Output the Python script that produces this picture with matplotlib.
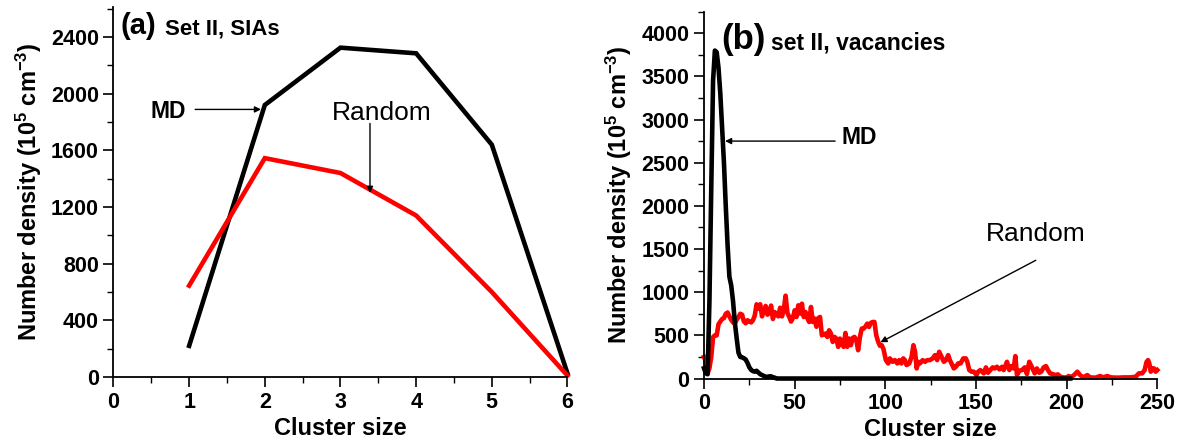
import matplotlib
matplotlib.use("Agg")
import matplotlib.pyplot as plt
from matplotlib.ticker import MultipleLocator

plt.rcParams['font.family'] = ['Liberation Sans', 'DejaVu Sans']
plt.rcParams['font.weight'] = 'bold'
plt.rcParams['mathtext.fontset'] = 'custom'
plt.rcParams['mathtext.bf'] = 'Liberation Sans:bold'
plt.rcParams['mathtext.rm'] = 'Liberation Sans:bold'
plt.rcParams['mathtext.default'] = 'bf'

# ---------------- data: panel (a) SIAs ----------------
size_a = [1, 2, 3, 4, 5, 6]
md_a = [220, 1920, 2325, 2285, 1640, 25]
random_a = [645, 1545, 1440, 1140, 600, 10]

# ---------------- data: panel (b) vacancies ----------------
md_b_x = [0, 1, 2, 3, 4, 5, 6, 7, 8, 9, 10, 11, 12, 13, 14, 15, 16, 17, 18, 19,
          20, 21, 22, 23, 24, 25, 26, 27, 28, 29, 30, 31, 32, 33, 34, 35, 36, 37,
          38, 39, 40, 202]
md_b_y = [120, 60, 50, 900, 2200, 3450, 3800, 3780, 3600, 3300, 2900, 2500, 2000,
          1550, 1180, 1080, 900, 650, 470, 300, 250, 245, 235, 220, 180, 130, 100,
          85, 80, 90, 70, 50, 40, 30, 20, 20, 25, 25, 15, 10, 0, 0]

rand_b_x = [0, 1, 2, 3, 4, 5, 6, 7, 8, 9, 10, 11, 12, 13, 14, 15, 16, 17, 18, 19,
            20, 21, 22, 23, 24, 25, 26, 27, 28, 29, 30, 31, 32, 33, 34, 35, 36, 37,
            38, 39, 40, 41, 42, 43, 44, 45, 46, 47, 48, 49, 50, 51, 52, 53, 54, 55,
            56, 57, 58, 59, 60, 61, 62, 63, 64, 65, 66, 67, 68, 69, 70, 71, 72, 73,
            74, 75, 76, 77, 78, 79, 80, 81, 82, 83, 84, 85, 86, 87, 88, 89, 90, 91,
            92, 93, 94, 95, 96, 97, 98, 99, 100.3, 101.6, 102.5, 104, 105.3, 106.6,
            107.7, 108.9, 109.9, 110.8, 111.7, 113.2, 114.5, 115.5, 116.4, 117.3,
            118.2, 119.1, 120.6, 121.9, 123.1, 124.6, 126.1, 127.4, 128.6, 129.7,
            131, 132.3, 133.4, 134.7, 135.6, 136.5, 137.8, 138.9, 140.2, 141.5, 143,
            144.4, 145.2, 146.3, 147.6, 148.8, 150.3, 151.2, 152.4, 154.3, 155.5,
            156.6, 157.9, 159.2, 160.3, 161.6, 162.9, 164.4, 165.3, 166.2, 167.1,
            168.4, 169.5, 170.8, 171.7, 172.6, 173.9, 175.4, 176.9, 178.1, 179.4,
            180.9, 182.4, 183.6, 184.9, 186, 187.3, 188.6, 189.7, 190.9, 192.3,
            193.7, 195.2, 196.5, 198.3, 200.1, 201.1, 202.3, 204.1, 205.9, 207.4,
            209.2, 211.4, 212.9, 216, 218.4, 220.2, 222.4, 224.3, 227.9, 231.6,
            235.3, 238.1, 239.9, 241.7, 243, 244.1, 244.9, 245.6, 246.4, 247.3,
            248.2, 249.1, 250]
rand_b_y = [250, 200, 60, 120, 250, 480, 500, 500, 630, 660, 690, 700, 750, 765,
            720, 680, 650, 636, 680, 713, 750, 740, 660, 640, 675, 660, 650, 675,
            730, 860, 810, 860, 720, 780, 840, 740, 760, 845, 690, 770, 740, 720,
            820, 720, 800, 960, 760, 715, 660, 700, 790, 713, 848, 752, 867, 713,
            771, 700, 655, 829, 655, 694, 600, 700, 713, 501, 510, 521, 482, 559,
            521, 424, 482, 463, 367, 463, 405, 367, 528, 367, 463, 386, 470, 482,
            444, 328, 482, 578, 578, 600, 636, 598, 644, 655, 655, 501, 430, 380,
            386, 340, 213, 175, 233, 194, 213, 175, 213, 175, 233, 213, 156, 175,
            252, 386, 310, 117, 194, 175, 213, 194, 213, 213, 233, 271, 213, 310,
            252, 194, 213, 271, 213, 175, 117, 136, 175, 175, 233, 233, 194, 98, 79,
            79, 40, 79, 98, 60, 129, 67, 98, 129, 117, 136, 106, 136, 98, 144, 194,
            98, 144, 117, 260, 40, 90, 98, 129, 52, 194, 129, 60, 117, 67, 79, 129,
            144, 98, 60, 52, 40, 48, 21, 13, 10, 29, 13, 40, 79, 40, 13, 40, 13, 10,
            29, 13, 29, 13, 10, 13, 13, 21, 60, 60, 98, 194, 213, 175, 79, 117, 117,
            79, 98]

xlabel = "Cluster size"
ylabel = r"Number density (10$^{5}$ cm$^{-3}$)"

fig = plt.figure(figsize=(11.82, 4.47), dpi=100)
ax1 = fig.add_axes([0.0960, 0.1566, 0.3841, 0.8271])
ax2 = fig.add_axes([0.5956, 0.1532, 0.3835, 0.8206])

LW = 3.3
TICK_FS = 15.5
LAB_FS = 17

def style(ax):
    for s in ['top', 'right']:
        ax.spines[s].set_visible(False)
    for s in ['left', 'bottom']:
        ax.spines[s].set_linewidth(1.3)
    ax.tick_params(which='major', direction='out', length=7, width=1.2,
                   labelsize=TICK_FS)
    ax.tick_params(which='minor', direction='out', length=4, width=1.0)
    for lab in ax.get_xticklabels() + ax.get_yticklabels():
        lab.set_fontweight('bold')

# ---------- panel (a) ----------
ax1.plot(size_a, md_a, color='black', lw=LW, solid_joinstyle='miter', clip_on=False)
ax1.plot(size_a, random_a, color='#ff0000', lw=LW, solid_joinstyle='miter', clip_on=False)
ax1.set_xlim(0, 6)
ax1.set_ylim(0, 2610)
ax1.xaxis.set_major_locator(MultipleLocator(1))
ax1.xaxis.set_minor_locator(MultipleLocator(0.5))
ax1.yaxis.set_major_locator(MultipleLocator(400))
ax1.yaxis.set_minor_locator(MultipleLocator(200))
ax1.set_yticks([0, 400, 800, 1200, 1600, 2000, 2400])
style(ax1)
ax1.set_xlabel(xlabel, fontsize=LAB_FS, fontweight='bold', labelpad=3)
ax1.set_ylabel(ylabel, fontsize=LAB_FS, fontweight='bold', labelpad=5)

ax1.text(0.016, 0.927, "(a)", transform=ax1.transAxes, fontsize=21,
         fontweight='bold', va='baseline', ha='left')
ax1.text(0.113, 0.927, "Set II, SIAs", transform=ax1.transAxes, fontsize=16,
         fontweight='bold', va='baseline', ha='left')

ax1.annotate("", xy=(1.95, 1889), xytext=(1.08, 1889),
             arrowprops=dict(arrowstyle='-|>', color='black', lw=1.0,
                             mutation_scale=9, shrinkA=0, shrinkB=0))
ax1.text(0.72, 1876, "MD", fontsize=16.5, fontweight='bold', ha='center', va='center')
ax1.annotate("", xy=(3.39, 1300), xytext=(3.39, 1790),
             arrowprops=dict(arrowstyle='-|>', color='black', lw=1.0,
                             mutation_scale=9, shrinkA=0, shrinkB=0))
ax1.text(3.54, 1867, "Random", fontsize=19, fontweight='normal', ha='center', va='center')

# ---------- panel (b) ----------
ax2.plot(rand_b_x, rand_b_y, color='#ff0000', lw=LW, clip_on=False)
ax2.plot(md_b_x, md_b_y, color='black', lw=LW, clip_on=False)
ax2.set_xlim(0, 250)
ax2.set_ylim(0, 4250)
ax2.xaxis.set_major_locator(MultipleLocator(50))
ax2.xaxis.set_minor_locator(MultipleLocator(25))
ax2.yaxis.set_major_locator(MultipleLocator(500))
ax2.yaxis.set_minor_locator(MultipleLocator(250))
ax2.set_yticks([0, 500, 1000, 1500, 2000, 2500, 3000, 3500, 4000])
style(ax2)
ax2.set_xlabel(xlabel, fontsize=LAB_FS, fontweight='bold', labelpad=3)
ax2.set_ylabel(ylabel, fontsize=LAB_FS, fontweight='bold', labelpad=5)

ax2.text(0.039, 0.897, "(b)", transform=ax2.transAxes, fontsize=25,
         fontweight='bold', va='baseline', ha='left')
ax2.text(0.148, 0.897, "set II, vacancies", transform=ax2.transAxes, fontsize=16.5,
         fontweight='bold', va='baseline', ha='left')

ax2.annotate("", xy=(11.6, 2751), xytext=(72.3, 2751),
             arrowprops=dict(arrowstyle='-|>', color='black', lw=1.0,
                             mutation_scale=9, shrinkA=0, shrinkB=0))
ax2.text(85.5, 2789, "MD", fontsize=16.5, fontweight='bold', ha='center', va='center')
ax2.annotate("", xy=(97.3, 420), xytext=(183, 1370),
             arrowprops=dict(arrowstyle='-|>', color='black', lw=1.0,
                             mutation_scale=9, shrinkA=0, shrinkB=0))
ax2.text(183, 1680, "Random", fontsize=19, fontweight='normal', ha='center', va='center')

fig.savefig("out.png", dpi=100)
